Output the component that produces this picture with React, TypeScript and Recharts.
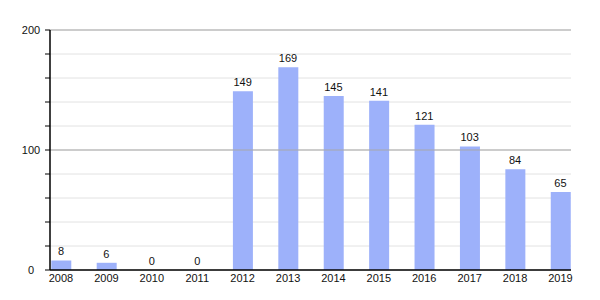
import React from 'react';
import { ComposedChart, Bar, Line, XAxis, YAxis, CartesianGrid, ReferenceLine, LabelList } from 'recharts';

const years = [2008, 2009, 2010, 2011, 2012, 2013, 2014, 2015, 2016, 2017, 2018, 2019];
const counts = [8, 6, 0, 0, 149, 169, 145, 141, 121, 103, 84, 65];
const yTicks = [0, 20, 40, 60, 80, 100, 120, 140, 160, 180, 200];
const majorTicks = [100, 200];

const data = years.map((year, i) => ({ year, count: counts[i] }));

const font = { fontFamily: '"Liberation Sans", Arial, sans-serif', fontSize: 11, fill: '#111' };

export default function App() {
  return (
    <div style={{ position: 'absolute', left: 0, top: 0, width: 600, height: 300, background: '#fff' }}>
      <ComposedChart width={600} height={300} data={data} margin={{ top: 30, right: 29, bottom: 0, left: 0 }}>
        <CartesianGrid vertical={false} stroke="#e2e2e2" horizontalValues={yTicks} />
        {majorTicks.map((v) => (
          <ReferenceLine key={v} y={v} stroke="#a8a8a8" strokeWidth={1.2} />
        ))}
        <XAxis
          dataKey="year"
          type="number"
          domain={[2007.758, 2019.232]}
          ticks={years}
          allowDataOverflow
          height={30}
          tickLine={false}
          tickSize={0}
          tickMargin={4}
          axisLine={{ stroke: '#000', strokeWidth: 1.5 }}
          tick={font}
        />
        <YAxis
          width={50}
          domain={[0, 200]}
          ticks={yTicks}
          interval={0}
          tickSize={5}
          tickMargin={14}
          tickLine={{ stroke: '#000' }}
          axisLine={{ stroke: '#000', strokeWidth: 1.5 }}
          tick={{ ...font, textAnchor: 'middle' }}
          tickFormatter={(v: number) => (v % 100 === 0 ? String(v) : '')}
        />
        <Bar dataKey="count" fill="#9db1fa" barSize={20} isAnimationActive={false} />
        <Line dataKey="count" stroke="none" dot={false} activeDot={false} isAnimationActive={false}>
          <LabelList dataKey="count" position="top" offset={5} style={font} />
        </Line>
      </ComposedChart>
    </div>
  );
}
